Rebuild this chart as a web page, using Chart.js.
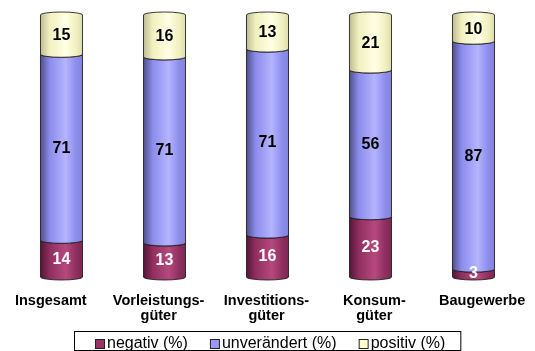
<!DOCTYPE html>
<html>
<head>
<meta charset="utf-8">
<script src="https://cdn.jsdelivr.net/npm/chart.js@4.4.0/dist/chart.umd.min.js"></script>
<style>
  html, body { margin: 0; padding: 0; background: #ffffff; }
  #wrap { width: 535px; height: 351px; }
</style>
</head>
<body>
<div id="wrap"><canvas id="chart" width="535" height="351"></canvas></div>
<script>
// Sector categories (multi-line labels as arrays)
const categories = ['Insgesamt', ['Vorleistungs-', 'güter'], ['Investitions-', 'güter'], ['Konsum-', 'güter'], 'Baugewerbe'];
// Shares in percent, stacked bottom to top
const negativ = [14, 13, 16, 23, 3];
const unveraendert = [71, 71, 71, 56, 87];
const positiv = [15, 16, 13, 21, 10];
const seriesNames = ['negativ (%)', 'unverändert (%)', 'positiv (%)'];

const FONT = '"Liberation Sans", Arial, Helvetica, sans-serif';

// Cylinder shading per series: dark left edge, highlight right of centre
const palettes = [
  { dark: '#561637', mid: '#8f2f5f', light: '#b6497f', edge: '#7c2852', flat: '#993366', text: '#ffffff' },
  { dark: '#50508c', mid: '#8c8cec', light: '#b4b4ff', edge: '#8484da', flat: '#9999ff', text: '#000000' },
  { dark: '#bdbd92', mid: '#f0f0c0', light: '#ffffe4', edge: '#dcdcb0', flat: '#ffffcc', text: '#000000' }
];

function cylinderGradient(ctx, left, right, p) {
  const g = ctx.createLinearGradient(left, 0, right, 0);
  g.addColorStop(0, p.dark);
  g.addColorStop(0.22, p.mid);
  g.addColorStop(0.6, p.light);
  g.addColorStop(0.85, p.mid);
  g.addColorStop(1, p.edge);
  return g;
}

// One stacked segment of a cylinder; the topmost segment gets a domed cap
function segmentPath(ctx, left, right, top, bottom, ry, cap) {
  const cx = (left + right) / 2, rx = (right - left) / 2;
  ctx.beginPath();
  ctx.moveTo(left, top);
  ctx.lineTo(left, bottom);
  ctx.ellipse(cx, bottom, rx, ry, 0, Math.PI, 0, true);
  ctx.lineTo(right, top);
  ctx.ellipse(cx, top, rx, ry, 0, 0, Math.PI, cap);
  ctx.closePath();
}

const cylinderPlugin = {
  id: 'cylinders',
  afterDatasetsDraw(chart) {
    const ctx = chart.ctx;
    const n = chart.data.labels.length;
    const metas = chart.data.datasets.map((d, i) => chart.getDatasetMeta(i));
    ctx.save();
    for (let j = 0; j < n; j++) {
      let topIdx = -1;
      metas.forEach((m, i) => { if (chart.data.datasets[i].data[j] > 0) topIdx = i; });
      metas.forEach((m, i) => {
        const el = m.data[j];
        if (!chart.data.datasets[i].data[j]) return;
        const { x, y, base, width } = el.getProps(['x', 'y', 'base', 'width'], true);
        const left = x - width / 2, right = x + width / 2;
        segmentPath(ctx, left, right, y, base, 3, i === topIdx);
        ctx.fillStyle = cylinderGradient(ctx, left, right, palettes[i]);
        ctx.fill();
        ctx.lineWidth = 1;
        ctx.strokeStyle = 'rgba(25,25,25,0.85)';
        ctx.stroke();
      });
    }
    // value labels in the middle of each segment
    ctx.font = 'bold 16px ' + FONT;
    ctx.textAlign = 'center';
    ctx.textBaseline = 'middle';
    metas.forEach((m, i) => {
      m.data.forEach((el, j) => {
        const v = chart.data.datasets[i].data[j];
        if (!v) return;
        const { x, y, base } = el.getProps(['x', 'y', 'base'], true);
        ctx.fillStyle = palettes[i].text;
        ctx.fillText(String(v), x, (y + base) / 2 + 1);
      });
    });
    ctx.restore();
  }
};

// Slight perspective spread of the category labels around the plot centre
const labelSpreadPlugin = {
  id: 'labelSpread',
  beforeDraw(chart) {
    const xs = chart.scales.x;
    const items = xs.getLabelItems(chart.chartArea);
    const cx = (chart.chartArea.left + chart.chartArea.right) / 2;
    items.forEach(it => {
      if (it._spread) return;
      const t = it.options.translation;
      t[0] = cx + (t[0] - cx) * 1.047 - 1;
      it._spread = true;
    });
  }
};

// Framed legend row below the category labels
const framedLegendPlugin = {
  id: 'framedLegend',
  afterDraw(chart) {
    const ctx = chart.ctx;
    const box = 9, gap = 2, itemGap = 23;
    ctx.save();
    ctx.font = '16px ' + FONT;
    const widths = seriesNames.map(s => ctx.measureText(s).width);
    const total = widths.reduce((a, b) => a + b, 0) + seriesNames.length * (box + gap) + (seriesNames.length - 1) * itemGap;
    const centre = 270;
    let x = Math.round(centre - total / 2);
    const start = x;
    const baseline = 347.5;
    ctx.textBaseline = 'alphabetic';
    ctx.textAlign = 'left';
    seriesNames.forEach((name, i) => {
      ctx.fillStyle = palettes[i].flat;
      ctx.fillRect(x + 0.5, 339.5, box, box);
      ctx.strokeStyle = '#222222';
      ctx.lineWidth = 1;
      ctx.strokeRect(x + 0.5, 339.5, box, box);
      ctx.fillStyle = '#000000';
      ctx.fillText(name, x + box + gap + 1, baseline);
      x += box + gap + widths[i] + itemGap;
    });
    const end = x - itemGap;
    ctx.strokeStyle = '#000000';
    ctx.lineWidth = 1;
    ctx.strokeRect(start - 21 + 0.5, 331.5, (end + 16) - (start - 21), 19);
    ctx.restore();
  }
};

const seriesData = [negativ, unveraendert, positiv];

new Chart(document.getElementById('chart'), {
  type: 'bar',
  data: {
    labels: categories,
    datasets: seriesData.map((d, i) => ({
      label: seriesNames[i],
      data: d,
      backgroundColor: 'rgba(0,0,0,0)',
      borderWidth: 0,
      categoryPercentage: 1,
      barPercentage: 0.408
    }))
  },
  options: {
    responsive: false,
    animation: false,
    devicePixelRatio: 1,
    layout: { padding: { top: 15, left: 10, right: 10, bottom: 27 } },
    scales: {
      x: {
        stacked: true,
        grid: { display: false, drawTicks: false },
        border: { display: false },
        ticks: {
          color: '#000000',
          font: { family: FONT, size: 14.5, weight: 'bold', lineHeight: 1.0 },
          padding: 17,
          maxRotation: 0,
          autoSkip: false
        },
        afterFit(scale) { scale.height = 47; }
      },
      y: {
        stacked: true,
        display: false,
        min: 0,
        max: 100
      }
    },
    plugins: {
      tooltip: { enabled: false },
      legend: { display: false }
    }
  },
  plugins: [cylinderPlugin, labelSpreadPlugin, framedLegendPlugin]
});
</script>
</body>
</html>
